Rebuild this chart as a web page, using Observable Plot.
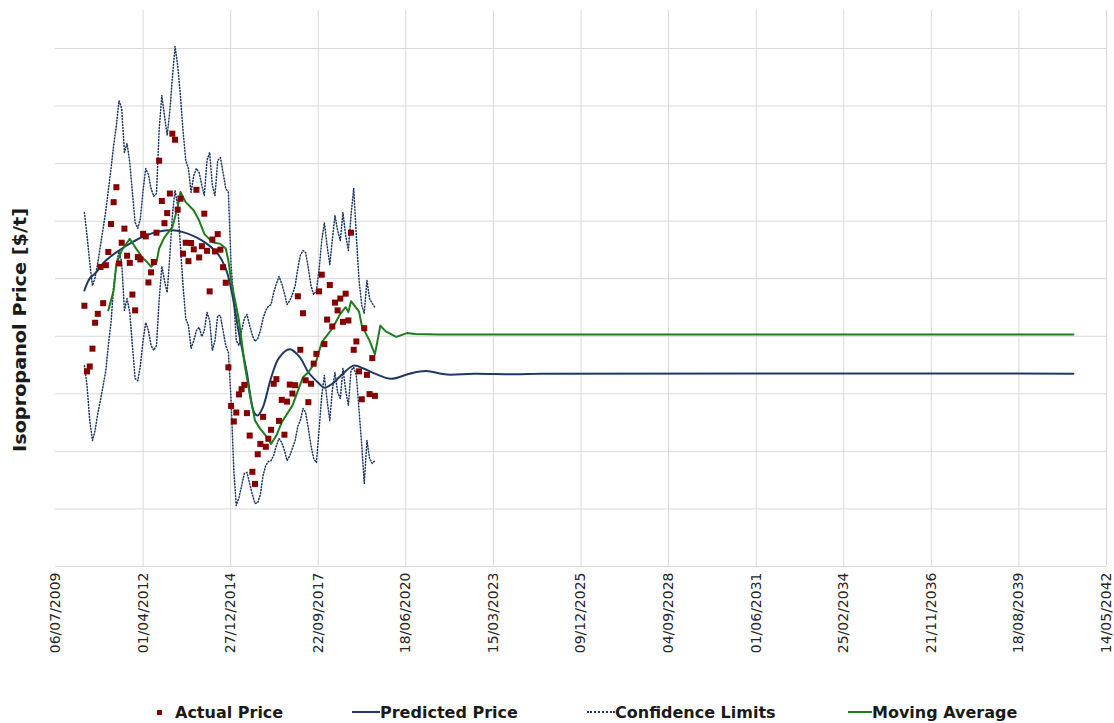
<!DOCTYPE html>
<html><head><meta charset="utf-8">
<script src="https://cdn.jsdelivr.net/npm/d3@7"></script>
<script src="https://cdn.jsdelivr.net/npm/@observablehq/plot@0.6"></script>
<style>
body{margin:0;background:#fff;font-family:"DejaVu Sans",Verdana,sans-serif;}
#chart{width:1114px;}
#legend{position:relative;height:28px;width:1114px;font-weight:bold;font-size:16px;color:#1a1a1a;}
.item{position:absolute;top:0;height:28px;display:flex;align-items:center;white-space:nowrap;}
</style></head><body><div id="chart"></div><div id="legend"></div>
<script>
// ---- data ----
const startMonth = "2010-06-01"; // first monthly observation
const actualPrice = [906,678,695,757,847,878,1041,915,1047,1093,
1190,1266,1318,1053,1125,1174,1080,1055,945,890,
1075,1067,1156,1147,987,1022,1058,1160,1410,1270,
1193,1228,1296,1504,1483,1240,1278,1087,1125,1061,
1124,1102,1309,1074,1113,1226,1097,956,1136,1095,
1155,1101,1040,986,692,558,504,535,598,616,
631,533,455,329,287,390,426,520,416,444,
475,635,651,506,579,458,573,632,601,630,
939,753,880,647,571,635,705,739,956,1014,
773,858,978,834,917,890,931,850,948,855,
1160,753,782,678,581,828,666,599,724,593];
const upperLimit = [1230,1150,1056,976,1004,1056,1115,1175,1237,1307,
1383,1463,1532,1619,1592,1439,1470,1404,1300,1195,
1175,1209,1307,1383,1362,1314,1286,1296,1515,1637,
1567,1498,1585,1696,1807,1741,1637,1515,1411,1383,
1300,1359,1383,1369,1324,1289,1411,1439,1324,1289,
1411,1421,1369,1314,1300,1046,924,785,768,820,
862,876,837,803,782,792,820,862,890,904,
910,952,983,1008,983,949,910,924,945,976,
1036,1081,1098,1091,1036,976,945,959,1029,1133,
1195,1115,1049,1133,1220,1168,1133,1230,1150,1098,
1220,1314,1147,994,907,879,994,931,914,900];
const lowerLimit = [698,629,507,438,473,532,577,629,681,768,
848,976,1046,1098,1056,890,931,883,768,653,
646,698,785,848,820,768,751,768,924,1043,
994,952,1081,1220,1307,1254,1115,976,862,837,
758,785,820,831,799,820,883,855,751,785,
872,872,820,768,744,577,334,212,240,281,
323,327,288,250,219,222,250,316,351,365,
368,386,420,445,431,403,368,386,410,438,
487,507,549,535,480,420,375,361,473,594,
664,577,507,612,674,605,584,688,612,559,
681,692,664,542,420,288,438,375,358,368];
const predMonths = [0,2,4,8,13,18,23,28,33,37,42,46,50,53,55,58,61,63,64,65,67,70,73,77,81,84,88,90,93,97,101,105,109,115,122,128,136,146,162,171,371];
const predValues = [959,1001,1018,1063,1098,1127,1150,1164,1168,1162,1144,1121,1087,1035,966,810,671,554,530,525,555,655,725,755,725,675,636,621,635,670,698,687,670,652,670,679,667,670,668,670,670];
const maMonths = [9,11,12,14,17,19,22,23,25,27,28,30,33,35,36,38,41,43,45,48,51,53,54,55,58,60,62,64,66,68,70,72,74,78,82,84,87,89,93,96,98,99,100,103,104,107,109,111,113,117,121,124,133,371];
const maValues = [890,959,1052,1098,1139,1110,1070,1063,1042,1057,1105,1144,1179,1249,1301,1266,1237,1202,1156,1127,1121,1105,1063,994,855,709,600,507,478,455,426,455,501,559,658,675,716,779,827,878,901,884,922,886,837,785,737,837,817,798,811,808,806,806];
const xTickDates = ["2009-07-06","2012-04-01","2014-12-27","2017-09-22","2020-06-18","2023-03-15","2025-12-09","2028-09-04","2031-06-01","2034-02-25","2036-11-21","2039-08-18","2042-05-14"];
const yTicks = [0,200,400,600,800,1000,1200,1400,1600,1800];
const legendLabels = ["Actual Price","Predicted Price","Confidence Limits","Moving Average"];
const yTitle = "Isopropanol Price [$/t]";

// ---- build ----
const navy = "#1f3864", green = "#1e7d1e", red = "#860000";
const t0 = new Date(startMonth + "T00:00:00Z");
const mdate = m => d3.utcMonth.offset(t0, m);
const xTicks = xTickDates.map(s => new Date(s + "T00:00:00Z"));
const actual = actualPrice.map((v,i) => ({date: mdate(i), value: v}));
const upper = upperLimit.map((v,i) => ({date: mdate(i), value: v}));
const lower = lowerLimit.map((v,i) => ({date: mdate(i), value: v}));
const pred = predMonths.map((m,i) => ({date: mdate(m), value: predValues[i]}));
const ma = maMonths.map((m,i) => ({date: mdate(m), value: maValues[i]}));

const plot = Plot.plot({
  width: 1114, height: 698,
  marginLeft: 55, marginRight: 8, marginTop: 10, marginBottom: 132,
  x: {type: "utc", domain: [xTicks[0], xTicks[xTicks.length-1]]},
  y: {domain: [0, 1932], axis: null},
  style: {fontFamily: "DejaVu Sans, Verdana, sans-serif", background: "#fff"},
  marks: [
    Plot.gridX(xTicks.slice(1), {stroke: "#d9d9d9", strokeOpacity: 1}),
    Plot.gridY(yTicks, {stroke: "#d9d9d9", strokeOpacity: 1}),
    Plot.axisX(xTicks, {tickFormat: d3.utcFormat("%d/%m/%Y"), tickRotate: -90, tickSize: 0, tickPadding: 6, fontSize: 14, fill: "#262626", label: null}),
    Plot.lineY(upper, {x: "date", y: "value", stroke: navy, strokeWidth: 1.5, strokeDasharray: "1,2"}),
    Plot.lineY(lower, {x: "date", y: "value", stroke: navy, strokeWidth: 1.5, strokeDasharray: "1,2"}),
    Plot.lineY(pred, {x: "date", y: "value", stroke: navy, strokeWidth: 2, curve: "catmull-rom"}),
    Plot.lineY(ma, {x: "date", y: "value", stroke: green, strokeWidth: 2}),
    Plot.dot(actual, {x: "date", y: "value", symbol: "square", r: 3.4, fill: red, stroke: "none"})
  ]
});
document.getElementById("chart").appendChild(plot);
d3.select(plot).append("text")
  .attr("transform", "translate(20,330) rotate(-90)")
  .attr("text-anchor", "middle").attr("dominant-baseline", "central")
  .attr("font-size", 17).attr("font-weight", "bold").attr("fill", "#1a1a1a")
  .attr("textLength", 244).attr("lengthAdjust", "spacingAndGlyphs")
  .text(yTitle);

// legend
const legend = document.getElementById("legend");
const lefts = [157, 352, 587, 848];
const markers = [
  `<span style="display:inline-block;width:5px;height:5px;background:${red};margin-right:13px"></span>`,
  `<span style="display:inline-block;width:28px;border-top:2px solid ${navy}"></span>`,
  `<span style="display:inline-block;width:28px;border-top:2px dotted ${navy}"></span>`,
  `<span style="display:inline-block;width:24px;border-top:2px solid ${green}"></span>`
];
legendLabels.forEach((lab, i) => {
  const d = document.createElement("div");
  d.className = "item";
  d.style.left = lefts[i] + "px";
  d.innerHTML = markers[i] + `<span>${lab}</span>`;
  legend.appendChild(d);
});
</script></body></html>
